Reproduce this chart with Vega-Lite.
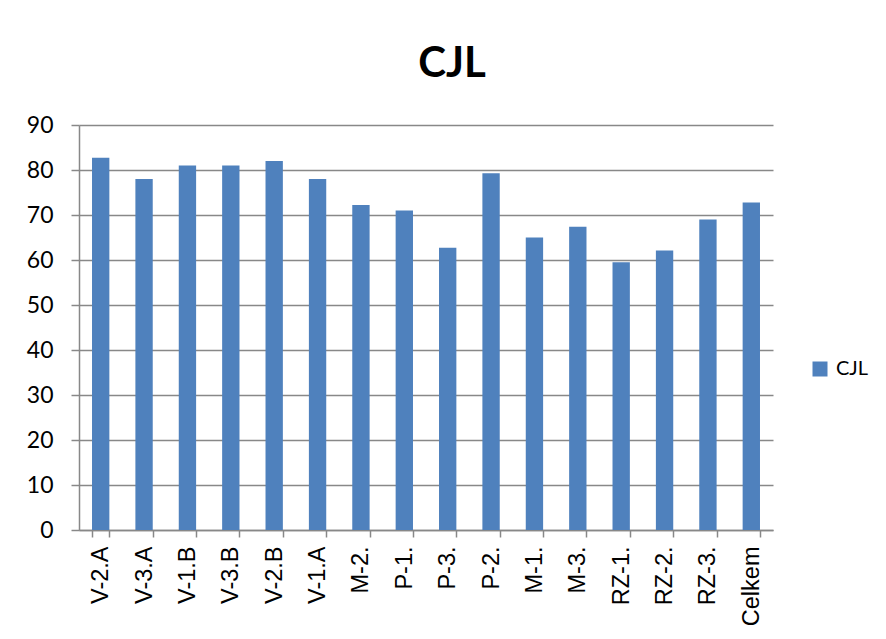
{
  "$schema": "https://vega.github.io/schema/vega-lite/v6.json",
  "autosize": "none",
  "width": 694,
  "height": 405,
  "padding": {"left": 79, "top": 125, "right": 113, "bottom": 109},
  "background": "white",
  "title": {
    "text": "CJL",
    "font": "Lato",
    "fontSize": 42,
    "fontWeight": "bold",
    "color": "black",
    "anchor": "middle",
    "dx": 26,
    "offset": 28
  },
  "data": {
    "values": [
      {"kategorie": "V-2.A", "hodnota": 82.7, "serie": "CJL"},
      {"kategorie": "V-3.A", "hodnota": 78.0, "serie": "CJL"},
      {"kategorie": "V-1.B", "hodnota": 81.0, "serie": "CJL"},
      {"kategorie": "V-3.B", "hodnota": 81.0, "serie": "CJL"},
      {"kategorie": "V-2.B", "hodnota": 82.0, "serie": "CJL"},
      {"kategorie": "V-1.A", "hodnota": 78.0, "serie": "CJL"},
      {"kategorie": "M-2.", "hodnota": 72.2, "serie": "CJL"},
      {"kategorie": "P-1.", "hodnota": 71.0, "serie": "CJL"},
      {"kategorie": "P-3.", "hodnota": 62.7, "serie": "CJL"},
      {"kategorie": "P-2.", "hodnota": 79.3, "serie": "CJL"},
      {"kategorie": "M-1.", "hodnota": 65.0, "serie": "CJL"},
      {"kategorie": "M-3.", "hodnota": 67.4, "serie": "CJL"},
      {"kategorie": "RZ-1.", "hodnota": 59.5, "serie": "CJL"},
      {"kategorie": "RZ-2.", "hodnota": 62.1, "serie": "CJL"},
      {"kategorie": "RZ-3.", "hodnota": 69.0, "serie": "CJL"},
      {"kategorie": "Celkem", "hodnota": 72.8, "serie": "CJL"}
    ]
  },
  "mark": {"type": "bar", "color": "#4F81BD"},
  "encoding": {
    "x": {
      "field": "kategorie",
      "type": "nominal",
      "sort": null,
      "scale": {"paddingInner": 0.6, "paddingOuter": 0.3},
      "axis": {
        "title": null,
        "tickBand": "extent",
        "labelAngle": -90,
        "labelAlign": "right",
        "labelBaseline": "middle",
        "labelFont": "Liberation Sans",
        "labelFontSize": 23.5,
        "labelColor": "black",
        "labelPadding": 9,
        "tickSize": 7,
        "tickColor": "#888888",
        "domainColor": "#888888",
        "domainWidth": 1.5,
        "tickWidth": 1.5,
        "grid": false
      }
    },
    "y": {
      "field": "hodnota",
      "type": "quantitative",
      "scale": {"domain": [0, 90], "nice": false},
      "axis": {
        "title": null,
        "values": [0, 10, 20, 30, 40, 50, 60, 70, 80, 90],
        "labelFont": "Lato",
        "labelFontSize": 23,
        "labelColor": "black",
        "labelPadding": 18,
        "tickSize": 8,
        "tickColor": "#888888",
        "tickWidth": 1.5,
        "domainColor": "#888888",
        "domainWidth": 1.5,
        "grid": true,
        "gridColor": "#888888",
        "gridWidth": 1.5
      }
    },
    "color": {
      "field": "serie",
      "type": "nominal",
      "scale": {"range": ["#4F81BD"]},
      "legend": {
        "title": null,
        "orient": "none",
        "legendX": 731,
        "legendY": 234,
        "padding": 0,
        "symbolType": "square",
        "symbolSize": 225,
        "symbolStrokeWidth": 0,
        "labelFont": "Lato",
        "labelFontSize": 20,
        "labelColor": "black",
        "labelOffset": 6
      }
    }
  },
  "config": {"view": {"stroke": null}}
}
